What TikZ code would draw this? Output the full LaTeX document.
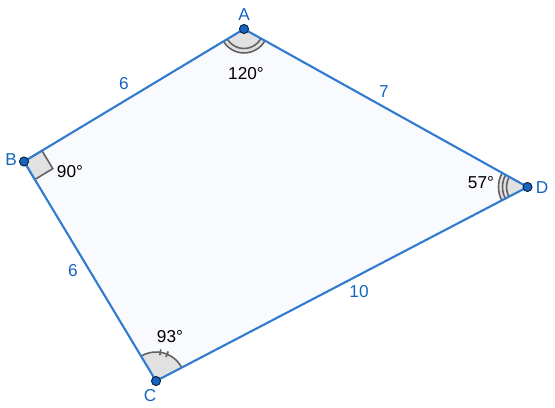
\documentclass[tikz,border=0pt]{standalone}
\usepackage{fontspec}
\setmainfont{Liberation Sans}
\usetikzlibrary{calc}
\definecolor{ggblue}{RGB}{21,101,192}
\definecolor{ggline}{RGB}{48,122,208}
\definecolor{ggfill}{RGB}{249,250,253}
\definecolor{anggray}{RGB}{225,225,225}
\definecolor{angline}{RGB}{97,97,97}
\tikzset{
pt/.style={circle, fill=ggblue, draw=black!70!ggblue, line width=0.5pt, inner sep=0pt, minimum size=5.2pt},
ptlabel/.style={text=ggblue, font=\fontsize{9.8}{11}\selectfont},
sidelabel/.style={text=ggblue, font=\fontsize{9.8}{11}\selectfont},
anglabel/.style={text=black, font=\fontsize{9.8}{11}\selectfont},
angfill/.style={fill=anggray, draw=none},
angarc/.style={draw=angline, line width=0.9pt},
side/.style={draw=ggline, line width=1.2pt}
}

\begin{document}
\begin{tikzpicture}[x=0.02cm, y=0.02cm]
  \useasboundingbox (0,0) rectangle (555,407);

  \coordinate (A) at (244,378);
  \coordinate (B) at (24,245.5);
  \coordinate (C) at (156,26);
  \coordinate (D) at (527.5,220);

  \fill[ggfill] (A) -- (B) -- (C) -- (D) -- cycle;

  % angle at A
  \fill[angfill] (A) -- ++(211.06:24) arc[start angle=211.06, end angle=330.87, radius=24] -- cycle;
  \draw[angarc] ($(A)+(211.06:24)$) arc[start angle=211.06, end angle=330.87, radius=24];
  \draw[angarc] ($(A)+(211.06:19.5)$) arc[start angle=211.06, end angle=330.87, radius=19.5];

  % right angle at B
  \filldraw[angfill, angarc] (B) -- ($(B)+(31.06:21)$) -- ($(B)+(31.06:21)+(-58.98:21)$) -- ($(B)+(-58.98:21)$) -- cycle;

  % angle at C
  \fill[angfill] (C) -- ++(27.57:29) arc[start angle=27.57, end angle=121.02, radius=29] -- cycle;
  \draw[angarc] ($(C)+(27.57:29)$) arc[start angle=27.57, end angle=121.02, radius=29];
  \draw[angarc] ($(C)+(67.5:26)$) -- ($(C)+(67.5:32)$);
  \draw[angarc] ($(C)+(81.5:26)$) -- ($(C)+(81.5:32)$);

  % angle at D
  \fill[angfill] (D) -- ++(150.87:29) arc[start angle=150.87, end angle=207.57, radius=29] -- cycle;
  \foreach \r in {21,25,29}
    \draw[angarc] ($(D)+(150.87:\r)$) arc[start angle=150.87, end angle=207.57, radius=\r];

  \draw[side] (A) -- (B) -- (C) -- (D) -- cycle;

  \node[pt] (pA) at (A) {};
  \node[pt] (pB) at (B) {};
  \node[pt] (pC) at (C) {};
  \node[pt] (pD) at (D) {};

  \node[ptlabel] at (244,392) {A};
  \node[ptlabel] at (11,247) {B};
  \node[ptlabel] at (150,11) {C};
  \node[ptlabel] at (542,219) {D};

  \node[sidelabel] at (124,323) {6};
  \node[sidelabel] at (384,315) {7};
  \node[sidelabel] at (73,136) {6};
  \node[sidelabel] at (359,115) {10};

  \node[anglabel] at (246,333) {120°};
  \node[anglabel] at (70,235) {90°};
  \node[anglabel] at (170,70) {93°};
  \node[anglabel] at (481,224) {57°};
\end{tikzpicture}
\end{document}
